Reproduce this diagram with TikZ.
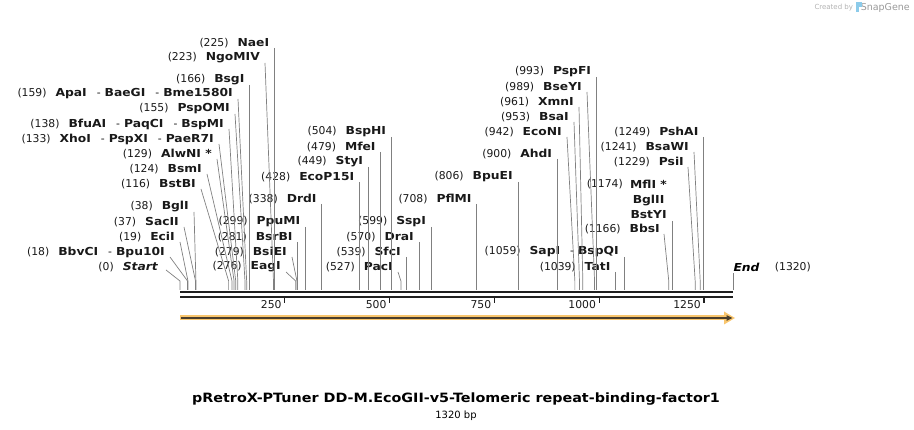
\documentclass[tikz,border=0pt]{standalone}
\usepackage{fontspec}
\setmainfont{DejaVu Sans}
\newfontfamily\enzfont[FakeStretch=1.12]{DejaVu Sans}
\usetikzlibrary{arrows.meta, positioning}

\definecolor{featorange}{HTML}{F9C66E}
\definecolor{featdark}{HTML}{4A3E2C}
\definecolor{logoblue}{HTML}{8CCBEA}

% x position of a base pair on the map
\newcommand{\bpx}[1]{180+#1*0.41917}
\newcommand{\pos}[1]{(#1)\hspace{9pt}}
\newcommand{\enz}[1]{{\enzfont\bfseries\fontsize{11}{13}\selectfont #1}}
\newcommand{\sepr}{\hspace{10pt}-\hspace{4pt}}

\begin{document}
\begin{tikzpicture}[x=1pt, y=-1pt, font=\fontsize{10.8}{13}\selectfont,
    site/.style={anchor=east, inner sep=0pt, text=black!90},
    leader/.style={draw=black!50, line width=0.7pt},
    strand/.style={draw=black!88, line width=2.6pt},
    tickmark/.style={draw=black!88, line width=1.3pt}]
    \useasboundingbox (0,0) rectangle (914,430);

    % Sequence strands and ruler
    \draw[strand] (180,292) -- (733.3,292);
    \draw[strand] (180,297) -- (733.3,297);
    \foreach \t in {250,500,750,1000,1250} {
        \draw[tickmark] ({\bpx{\t}},297) -- ({\bpx{\t}},303.5);
        \node[site] (tick\t) at ({\bpx{\t}-3},305) {\t};
    }

    % Feature arrow
    \draw[line width=5pt, featorange] (180,318) -- (727,318);
    \fill[featorange] (724,311.5) -- (735,318) -- (724,324.5) -- cycle;
    \draw[line width=1.4pt, featdark, -{Triangle[length=6pt, width=5.5pt]}] (181,318) -- (732.5,318);

    % Left group of sites
    \node[site] (naei) at ({\bpx{225}-5},43) {\pos{225}\enz{NaeI}};
    \node[site] (ngomiv) at (260,58) {\pos{223}\enz{NgoMIV}};
    \node[site] (bsgi) at ({\bpx{166}-5},80) {\pos{166}\enz{BsgI}};
    \node[site] (apai) at (233,94) {\pos{159}\enz{ApaI}\sepr\enz{BaeGI}\sepr\enz{Bme1580I}};
    \node[site] (pspomi) at (230,109) {\pos{155}\enz{PspOMI}};
    \node[site] (bfuai) at (224,124) {\pos{138}\enz{BfuAI}\sepr\enz{PaqCI}\sepr\enz{BspMI}};
    \node[site] (xhoi) at (214,139) {\pos{133}\enz{XhoI}\sepr\enz{PspXI}\sepr\enz{PaeR7I}};
    \node[site] (alwni) at (212,154) {\pos{129}\enz{AlwNI *}};
    \node[site] (bsmi) at (202,169) {\pos{124}\enz{BsmI}};
    \node[site] (bstbi) at (196,184) {\pos{116}\enz{BstBI}};
    \node[site] (bgli) at (189,207) {\pos{38}\enz{BglI}};
    \node[site] (sacii) at (179,222) {\pos{37}\enz{SacII}};
    \node[site] (ecii) at (175,237) {\pos{19}\enz{EciI}};
    \node[site] (bbvci) at (165,252) {\pos{18}\enz{BbvCI}\sepr\enz{Bpu10I}};
    \node[site] (start) at (158,267) {\pos{0}\enz{\itshape Start}};

    % Middle sites
    \node[site] (ppumi) at ({\bpx{299}-5},222) {\pos{299}\enz{PpuMI}};
    \node[site] (bsrbi) at ({\bpx{281}-5},237) {\pos{281}\enz{BsrBI}};
    \node[site] (bsiei) at (287,252) {\pos{279}\enz{BsiEI}};
    \node[site] (eagi) at (281,267) {\pos{276}\enz{EagI}};
    \node[site] (drdi) at ({\bpx{338}-5},199) {\pos{338}\enz{DrdI}};
    \node[site] (ecop15i) at ({\bpx{428}-5},177) {\pos{428}\enz{EcoP15I}};
    \node[site] (styi) at ({\bpx{449}-5},162) {\pos{449}\enz{StyI}};
    \node[site] (mfei) at ({\bpx{479}-5},147) {\pos{479}\enz{MfeI}};
    \node[site] (bsphi) at ({\bpx{504}-5},132) {\pos{504}\enz{BspHI}};
    \node[site] (paci) at (393,267) {\pos{527}\enz{PacI}};
    \node[site] (sfci) at ({\bpx{539}-5},252) {\pos{539}\enz{SfcI}};
    \node[site] (drai) at ({\bpx{570}-5},237) {\pos{570}\enz{DraI}};
    \node[site] (sspi) at ({\bpx{599}-5},222) {\pos{599}\enz{SspI}};
    \node[site] (pflmi) at ({\bpx{708}-5},199) {\pos{708}\enz{PflMI}};
    \node[site] (bpuei) at ({\bpx{806}-5},177) {\pos{806}\enz{BpuEI}};
    \node[site] (ahdi) at ({\bpx{900}-5},154) {\pos{900}\enz{AhdI}};
    \node[site] (econi) at (562,132) {\pos{942}\enz{EcoNI}};
    \node[site] (bsai) at (569,117) {\pos{953}\enz{BsaI}};
    \node[site] (xmni) at (574,102) {\pos{961}\enz{XmnI}};
    \node[site] (bseyi) at (582,87) {\pos{989}\enz{BseYI}};
    \node[site] (pspfi) at ({\bpx{993}-5},72) {\pos{993}\enz{PspFI}};
    \node[site] (sapi) at ({\bpx{1059}-5},252) {\pos{1059}\enz{SapI}\sepr\enz{BspQI}};
    \node[site] (tati) at ({\bpx{1039}-5},267) {\pos{1039}\enz{TatI}};

    % Right group of sites
    \node[site] (bbsi) at (660,229) {\pos{1166}\enz{BbsI}};
    \node[site, anchor=north east, align=center, font=\enzfont\bfseries\fontsize{11}{15}\selectfont]
        (mfli) at ({\bpx{1174}-5},180) {MflI *\\BglII\\BstYI};
    \node[site] (mflipos) at (623,184) {(1174)};
    \node[site] (psii) at (684,162) {\pos{1229}\enz{PsiI}};
    \node[site] (bsawi) at (689,147) {\pos{1241}\enz{BsaWI}};
    \node[site] (pshai) at ({\bpx{1249}-5},132) {\pos{1249}\enz{PshAI}};
    \node[anchor=west, inner sep=0pt] (end) at ({\bpx{1320}},267) {\enz{\itshape End}};
    \node[right=15pt of end, inner sep=0pt, text=black!90] (endpos) {(1320)};

    % Leaders to the cut sites
    \draw[leader] (naei.east) ++(5,5) -- ({\bpx{225}},281) -- ({\bpx{225}},290);
    \draw[leader] (ngomiv.east) ++(5,5) -- ({\bpx{223}},281) -- ({\bpx{223}},290);
    \draw[leader] (bsgi.east) ++(5,5) -- ({\bpx{166}},281) -- ({\bpx{166}},290);
    \draw[leader] (apai.east) ++(5,5) -- ({\bpx{159}},281) -- ({\bpx{159}},290);
    \draw[leader] (pspomi.east) ++(5,5) -- ({\bpx{155}},281) -- ({\bpx{155}},290);
    \draw[leader] (bfuai.east) ++(5,5) -- ({\bpx{138}},281) -- ({\bpx{138}},290);
    \draw[leader] (xhoi.east) ++(5,5) -- ({\bpx{133}},281) -- ({\bpx{133}},290);
    \draw[leader] (alwni.east) ++(5,5) -- ({\bpx{129}},281) -- ({\bpx{129}},290);
    \draw[leader] (bsmi.east) ++(5,5) -- ({\bpx{124}},281) -- ({\bpx{124}},290);
    \draw[leader] (bstbi.east) ++(5,5) -- ({\bpx{116}},281) -- ({\bpx{116}},290);
    \draw[leader] (bgli.east) ++(5,5) -- ({\bpx{38}},281) -- ({\bpx{38}},290);
    \draw[leader] (sacii.east) ++(5,5) -- ({\bpx{37}},281) -- ({\bpx{37}},290);
    \draw[leader] (ecii.east) ++(5,5) -- ({\bpx{19}},281) -- ({\bpx{19}},290);
    \draw[leader] (bbvci.east) ++(5,5) -- ({\bpx{18}},281) -- ({\bpx{18}},290);
    \draw[leader] (start.east) ++(8,3) -- ({\bpx{0}},281) -- ({\bpx{0}},290);
    \draw[leader] (ppumi.east) ++(5,5) -- ({\bpx{299}},290);
    \draw[leader] (bsrbi.east) ++(5,5) -- ({\bpx{281}},290);
    \draw[leader] (bsiei.east) ++(5,5) -- ({\bpx{279}},281) -- ({\bpx{279}},290);
    \draw[leader] (eagi.east) ++(5,5) -- ({\bpx{276}},281) -- ({\bpx{276}},290);
    \draw[leader] (drdi.east) ++(5,5) -- ({\bpx{338}},290);
    \draw[leader] (ecop15i.east) ++(5,5) -- ({\bpx{428}},290);
    \draw[leader] (styi.east) ++(5,5) -- ({\bpx{449}},290);
    \draw[leader] (mfei.east) ++(5,5) -- ({\bpx{479}},290);
    \draw[leader] (bsphi.east) ++(5,5) -- ({\bpx{504}},290);
    \draw[leader] (paci.east) ++(5,5) -- ({\bpx{527}},281) -- ({\bpx{527}},290);
    \draw[leader] (sfci.east) ++(5,5) -- ({\bpx{539}},290);
    \draw[leader] (drai.east) ++(5,5) -- ({\bpx{570}},290);
    \draw[leader] (sspi.east) ++(5,5) -- ({\bpx{599}},290);
    \draw[leader] (pflmi.east) ++(5,5) -- ({\bpx{708}},290);
    \draw[leader] (bpuei.east) ++(5,5) -- ({\bpx{806}},290);
    \draw[leader] (ahdi.east) ++(5,5) -- ({\bpx{900}},290);
    \draw[leader] (econi.east) ++(5,5) -- ({\bpx{942}},281) -- ({\bpx{942}},290);
    \draw[leader] (bsai.east) ++(5,5) -- ({\bpx{953}},281) -- ({\bpx{953}},290);
    \draw[leader] (xmni.east) ++(5,5) -- ({\bpx{961}},281) -- ({\bpx{961}},290);
    \draw[leader] (bseyi.east) ++(5,5) -- ({\bpx{989}},281) -- ({\bpx{989}},290);
    \draw[leader] (pspfi.east) ++(5,5) -- ({\bpx{993}},290);
    \draw[leader] (sapi.east) ++(5,5) -- ({\bpx{1059}},290);
    \draw[leader] (tati.east) ++(5,5) -- ({\bpx{1039}},290);
    \draw[leader] (bbsi.east) ++(4,5) -- ({\bpx{1166}},281) -- ({\bpx{1166}},290);
    \draw[leader] (mfli.south east) ++(5,2) -- ({\bpx{1174}},290);
    \draw[leader] (psii.east) ++(4,5) -- ({\bpx{1229}},281) -- ({\bpx{1229}},290);
    \draw[leader] (bsawi.east) ++(5,5) -- ({\bpx{1241}},281) -- ({\bpx{1241}},290);
    \draw[leader] (pshai.east) ++(5,5) -- ({\bpx{1249}},290);
    \draw[leader] (end.south west) ++(0,2) -- ({\bpx{1320}},290);

    % Title
    \node[font=\enzfont\bfseries\fontsize{12.8}{15}\selectfont] (title) at (456,399)
        {pRetroX-PTuner DD-M.EcoGII-v5-Telomeric repeat-binding-factor1};
    \node[below=1.5pt of title, inner sep=0pt, font=\fontsize{10}{12}\selectfont] (length) {1320 bp};

    % Watermark
    \node[anchor=east, inner sep=0pt, text=black!40, font=\fontsize{9.5}{11}\selectfont] (snapgene) at (910,7.5) {SnapGene};
    \node[left=1.5pt of snapgene, inner sep=0pt, fill=logoblue, minimum width=2.5pt, minimum height=10pt] (logo) {};
    \fill[logoblue] (logo.north east) rectangle ++(2.4,4.5);
    \node[left=3pt of logo, inner sep=0pt, text=black!30, font=\fontsize{7}{8}\selectfont] (createdby) {Created by};
\end{tikzpicture}
\end{document}
